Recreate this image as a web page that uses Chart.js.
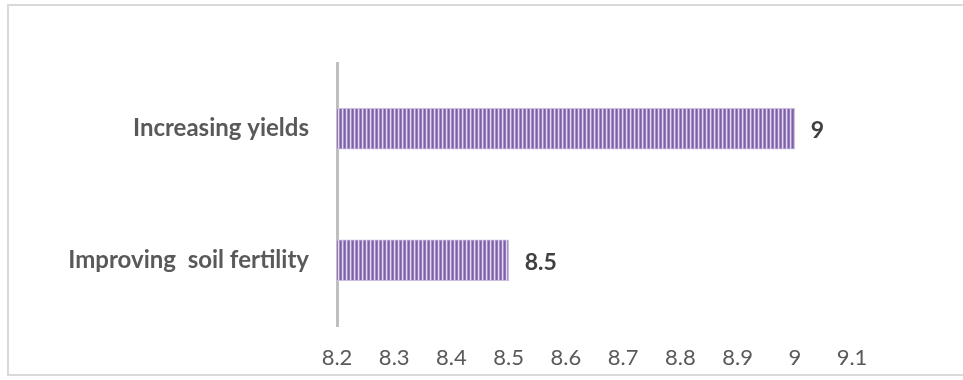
<!DOCTYPE html>
<html>
<head>
<meta charset="utf-8">
<script src="https://cdn.jsdelivr.net/npm/chart.js@4.4.1/dist/chart.umd.min.js"></script>
<style>
  html, body { margin: 0; padding: 0; background: #fff; }
  #wrap { position: relative; width: 963px; height: 380px; overflow: hidden; }
  #frame { position: absolute; left: 7px; top: 4px; width: 980px; height: 372px;
           border: 2px solid #d9d9d9; box-sizing: border-box; }
  canvas { position: absolute; left: 0; top: 0; }
</style>
</head>
<body>
<div id="wrap">
  <div id="frame"></div>
  <canvas id="c" width="963" height="380"></canvas>
</div>
<script>
const categories = ['Increasing yields', 'Improving  soil fertility'];
const values = [9, 8.5];
const axisMin = 8.2;
const axisMax = 9.1;
const axisStep = 0.1;

// Vertical stripe fill for the bars
function stripePattern(ctx) {
  const p = document.createElement('canvas');
  p.width = 4; p.height = 8;
  const g = p.getContext('2d');
  const cols = ['#7d5fa6', '#9479bb', '#e2d9ee', '#a992c8'];
  cols.forEach((c, i) => { g.fillStyle = c; g.fillRect(i, 0, 1, 8); });
  return ctx.createPattern(p, 'repeat');
}

const ctx = document.getElementById('c').getContext('2d');

const valueLabels = {
  id: 'valueLabels',
  afterDatasetsDraw(chart) {
    const c = chart.ctx;
    const meta = chart.getDatasetMeta(0);
    c.save();
    c.font = 'bold 23px Lato, "Open Sans", sans-serif';
    c.fillStyle = '#404040';
    c.textAlign = 'left';
    c.textBaseline = 'middle';
    meta.data.forEach((bar, i) => {
      c.fillText(String(values[i]), bar.x + 16, bar.y + 2);
    });
    c.restore();
  }
};

new Chart(ctx, {
  type: 'bar',
  data: {
    labels: categories,
    datasets: [{
      data: values,
      backgroundColor: stripePattern(ctx),
      borderColor: '#cbbde0',
      borderWidth: 1,
      borderSkipped: 'start',
      barThickness: 41
    }]
  },
  options: {
    indexAxis: 'y',
    responsive: false,
    animation: false,
    events: [],
    layout: { padding: { top: 63, right: 111, left: 0, bottom: 0 } },
    plugins: { legend: { display: false }, tooltip: { enabled: false } },
    scales: {
      x: {
        min: axisMin,
        max: axisMax,
        grid: { display: false },
        border: { display: false },
        ticks: {
          stepSize: axisStep,
          padding: 11,
          color: '#595959',
          font: { family: 'Lato, "Open Sans", sans-serif', size: 22 },
          callback: v => String(Number(v.toFixed(1)))
        },
        afterFit: s => { s.height = 54; }
      },
      y: {
        grid: { display: false },
        border: { display: true, color: '#bfbfbf', width: 3 },
        ticks: {
          padding: 20,
          color: '#595959',
          font: { family: 'Lato, "Open Sans", sans-serif', size: 24, weight: 'bold' }
        },
        afterFit: s => { s.width = 337; }
      }
    }
  },
  plugins: [valueLabels]
});
</script>
</body>
</html>
